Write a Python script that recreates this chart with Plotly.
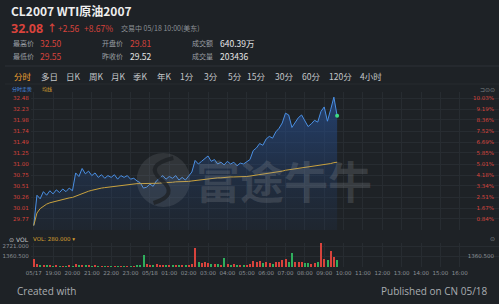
import plotly.graph_objects as go

W, H = 499, 304
BG = "#1e2226"
RED = "#d8433c"
GREEN = "#2fae5c"

# ---------------- data ----------------
prev_close = 29.52
# price every 10 minutes starting 05/17 18:00 (index i -> i*10 minutes)
price = [29.62, 30.30, 30.22, 30.38, 30.30, 30.40, 30.33, 30.42, 30.36, 30.44,
         30.38, 30.46, 30.40, 30.80, 30.72, 30.90, 30.78, 30.84, 30.74, 30.80,
         30.70, 30.76, 30.68, 30.74, 30.70, 30.76, 30.66, 30.74, 30.70, 30.74,
         30.66, 30.68, 30.62, 30.58, 30.46, 30.48, 30.55, 30.50, 30.62, 30.68,
         30.74, 30.66, 30.72, 30.68, 30.74, 30.64, 30.70, 30.64, 30.72, 30.82,
         31.08, 31.00, 31.06, 31.12, 31.18, 31.06, 31.10, 31.00, 31.04, 30.98,
         31.06, 31.00, 31.04, 30.96, 31.02, 31.00, 31.06, 31.10, 31.30, 31.36,
         31.46, 31.42, 31.56, 31.62, 31.58, 31.72, 31.80, 31.92, 32.14, 32.10,
         31.82, 31.92, 32.04, 32.10, 31.98, 31.84, 31.90, 31.98, 31.94, 32.18,
         32.28, 31.96, 32.22, 32.50, 32.08]
avg_line = [29.62, 29.90, 30.00, 30.06, 30.10, 30.13, 30.15, 30.17, 30.19, 30.21,
            30.22, 30.24, 30.25, 30.28, 30.31, 30.34, 30.37, 30.39, 30.41, 30.43,
            30.45, 30.46, 30.47, 30.48, 30.49, 30.50, 30.51, 30.52, 30.53, 30.54,
            30.55, 30.55, 30.56, 30.56, 30.56, 30.56, 30.56, 30.56, 30.57, 30.57,
            30.58, 30.58, 30.59, 30.59, 30.60, 30.60, 30.60, 30.61, 30.61, 30.62,
            30.63, 30.64, 30.65, 30.66, 30.67, 30.68, 30.68, 30.69, 30.69, 30.70,
            30.70, 30.71, 30.71, 30.71, 30.72, 30.72, 30.72, 30.73, 30.74, 30.75,
            30.76, 30.77, 30.78, 30.79, 30.80, 30.81, 30.82, 30.84, 30.86, 30.87,
            30.88, 30.89, 30.90, 30.91, 30.92, 30.93, 30.94, 30.95, 30.96, 30.97,
            30.98, 30.99, 31.01, 31.03, 31.04]
volume = [1000, 350, 200, 250, 150, 180, 120, 160, 100, 130,
          90, 140, 110, 420, 200, 300, 180, 150, 120, 140,
          100, 120, 90, 110, 80, 100, 90, 110, 80, 95,
          100, 120, 150, 200, 1550, 400, 300, 250, 350, 200,
          250, 180, 200, 150, 220, 180, 150, 200, 260, 450,
          2460, 700, 500, 600, 550, 450, 350, 400, 300, 1170,
          400, 300, 350, 280, 300, 250, 320, 380, 800, 600,
          750, 500, 650, 550, 400, 600, 700, 850, 1000, 700,
          1815, 600, 700, 650, 550, 500, 450, 500, 600, 3110,
          1100, 900, 2070, 1300, 950]
minutes = [i * 10 for i in range(len(price))]

price_ticks = [32.48, 32.23, 31.99, 31.74, 31.49, 31.25, 31.00, 30.75, 30.51, 30.26, 30.01, 29.77]
price_labels = ["32.48", "32.23", "31.98", "31.74", "31.49", "31.25", "31.00", "30.75", "30.51", "30.26", "30.01", "29.77"]
pct_labels = ["10.03%", "9.19%", "8.36%", "7.52%", "6.69%", "5.85%", "5.01%", "4.18%", "3.34%", "2.51%", "1.67%", "0.84%"]
vol_ticks = [1360.5, 2721.0]
vol_labels = ["1360.500", "2721.000"]
time_labels = ["05/17", "19:00", "20:00", "21:00", "22:00", "23:00", "05/18", "01:00", "02:00",
               "03:00", "04:00", "05:00", "06:00", "07:00", "08:00", "09:00", "10:00", "11:00",
               "12:00", "13:00", "14:00", "15:00", "16:00", "17:00"]
tabs = ["分时", "多日", "日K", "周K", "月K", "季K", "年K", "1分", "3分", "5分", "15分", "30分", "60分", "120分", "4小时"]
tab_x = [18, 45, 69, 92, 115, 137, 161, 184, 208, 232, 254, 282, 309, 339, 370]

hours = [m / 60 for m in minutes]
vol_colors = [RED if i == 0 or price[i] >= price[i - 1] else GREEN for i in range(len(price))]


def px(x):
    return x / W


def py(y):
    return 1 - y / H


FONT = "Noto Sans CJK SC, Noto Sans, sans-serif"

fig = go.Figure()

# price area
fig.add_trace(go.Scatter(
    x=hours, y=price, mode="lines", line=dict(color="#4a8fe3", width=1),
    fill="tozeroy",
    fillgradient=dict(type="vertical", start=29.52, stop=32.5,
                      colorscale=[[0, "rgba(35,60,100,0.15)"], [1, "rgba(40,85,160,0.6)"]]),
    xaxis="x", yaxis="y", hoverinfo="skip", showlegend=False))
fig.add_trace(go.Scatter(
    x=[hours[-1]], y=[price[-1]], mode="markers", marker=dict(color="#3ddc84", size=4),
    xaxis="x", yaxis="y", hoverinfo="skip", showlegend=False))
fig.add_trace(go.Scatter(
    x=hours, y=avg_line, mode="lines", line=dict(color="#c9a23e", width=1),
    xaxis="x", yaxis="y2", hoverinfo="skip", showlegend=False))
# volume
fig.add_trace(go.Bar(
    x=hours, y=volume, marker=dict(color=vol_colors, line=dict(width=0)), width=0.06,
    xaxis="x2", yaxis="y3", hoverinfo="skip", showlegend=False))
fig.add_trace(go.Bar(
    x=hours, y=volume, marker=dict(color="rgba(0,0,0,0)", line=dict(width=0)), width=0.06,
    xaxis="x2", yaxis="y4", hoverinfo="skip", showlegend=False))

xr = [(26 - 29) / 19.5625, (499 - 29) / 19.5625]
xdom = [px(26), 1]
grid = "#272c31"
tick_font = dict(family="DejaVu Sans, sans-serif", size=5.5)

fig.update_layout(
    width=W, height=H, margin=dict(l=0, r=0, t=0, b=0),
    paper_bgcolor=BG, plot_bgcolor=BG,
    bargap=0,
    xaxis=dict(domain=xdom, range=xr, anchor="y", tickvals=list(range(24)), showticklabels=False,
               showgrid=True, gridcolor=grid, gridwidth=1, zeroline=False, showline=False, ticks=""),
    xaxis2=dict(domain=xdom, range=xr, anchor="y3", tickvals=list(range(24)), ticktext=time_labels,
                tickfont=dict(color="#8c9196", **tick_font), showgrid=True, gridcolor=grid,
                zeroline=False, showline=False, ticks="", ticklabelstandoff=1),
    yaxis=dict(domain=[py(230), py(92)], range=[29.52, 32.615], anchor="x",
               tickvals=price_ticks, ticktext=price_labels, tickfont=dict(color=RED, **tick_font),
               showgrid=True, gridcolor=grid, zeroline=False, showline=False, ticks="",
               ticklabelstandoff=1),
    yaxis2=dict(domain=[py(230), py(92)], range=[29.52, 32.615], overlaying="y", side="right",
                anchor="x", tickvals=price_ticks, ticktext=pct_labels, ticklabelposition="inside",
                tickfont=dict(color=RED, **tick_font), showgrid=False, zeroline=False,
                showline=False, ticks="", ticklabelstandoff=2),
    yaxis3=dict(domain=[py(267), py(243)], range=[0, 3110], anchor="x2",
                tickvals=vol_ticks, ticktext=vol_labels, tickfont=dict(color="#8c9196", **tick_font),
                showgrid=True, gridcolor=grid, zeroline=False, showline=False, ticks="",
                ticklabelstandoff=1),
    yaxis4=dict(domain=[py(267), py(243)], range=[0, 3110], overlaying="y3", side="right",
                anchor="x2", tickvals=vol_ticks, ticktext=vol_labels, ticklabelposition="inside",
                tickfont=dict(color="#8c9196", **tick_font), showgrid=False, zeroline=False,
                showline=False, ticks="", ticklabelstandoff=2),
)

ann = []


def text(x, y, s, size, color, anchor="left", weight="normal", family=FONT):
    ann.append(dict(x=px(x), y=py(y), xref="paper", yref="paper", text=s, showarrow=False,
                    xanchor=anchor, yanchor="middle",
                    font=dict(size=size, color=color, family=family, weight=weight)),)


# header
text(4, 10, "CL2007 WTI原油2007", 12, "#eeeeee", weight="bold")
text(4, 28.5, "32.08", 12.5, RED, weight="bold", family="Noto Sans, sans-serif")
text(40, 28, "↑", 10, RED, weight="bold")
text(52, 28, "+2.56", 8.5, RED)
text(78, 28, "+8.67%", 8.5, RED)
text(115, 28, "交易中 05/18 10:00(美东)", 7, "#8c9196")
lab_c = "#9a9fa4"
for (lx, ly, ls, vx, vs, vc) in [
        (6, 43, "最高价", 33, "32.50", RED),
        (96, 43, "开盘价", 124, "29.81", RED),
        (187, 43, "成交额", 215, "640.39万", "#e6e6e6"),
        (6, 56, "最低价", 33, "29.55", RED),
        (96, 56, "昨收价", 124, "29.52", "#e6e6e6"),
        (187, 56, "成交量", 215, "203436", "#e6e6e6")]:
    text(lx, ly, ls, 7, lab_c)
    text(vx, ly, vs, 8.5, vc)

for t, x in zip(tabs, tab_x):
    text(x, 76, t, 8.5, "#f0a030" if t == "分时" else "#c4c7ca", anchor="center")

text(5, 89, "分时走势", 5, "#4a8fe3")
text(35, 89, "均线", 5, "#d9a030")
text(497, 89, "⊐⊙⊙", 6, "#7d8287", anchor="right", family="DejaVu Sans")

text(2, 239, "⊙ VOL", 6, "#c4c7ca", family="DejaVu Sans")
text(26, 239, "VOL: 280.000 ▾", 5.5, "#d9a030", family="DejaVu Sans")
text(497, 238, "⊙", 6, "#7d8287", anchor="right", family="DejaVu Sans")

# watermark
text(282, 180, "富途牛牛", 44, "rgba(150,155,160,0.22)", anchor="center", weight="bold")

# bottom site overlay
text(10, 291, "Created with", 10, "#a9adb1", family="Open Sans, sans-serif")
text(490, 291, "Published on CN 05/18", 10, "#a9adb1", anchor="right", family="Open Sans, sans-serif")

fig.update_layout(annotations=ann)

shapes = [
    dict(type="line", xref="paper", yref="paper", x0=0, x1=1, y0=py(66), y1=py(66),
         line=dict(color="#2c3136", width=1)),
    dict(type="line", xref="paper", yref="paper", x0=0, x1=1, y0=py(84), y1=py(84),
         line=dict(color="#262a2f", width=1)),
    dict(type="circle", xref="paper", yref="paper", x0=px(133), x1=px(187), y0=py(207), y1=py(153),
         fillcolor="rgba(150,155,160,0.16)", line=dict(width=0), layer="above"),
    dict(type="path", xref="paper", yref="paper",
         path=f"M {px(170)} {py(158)} Q {px(140)} {py(165)} {px(158)} {py(180)} T {px(150)} {py(203)}",
         line=dict(color="rgba(30,34,38,0.8)", width=4), layer="above"),
]
fig.update_layout(shapes=shapes)

fig.write_html("out.html")
